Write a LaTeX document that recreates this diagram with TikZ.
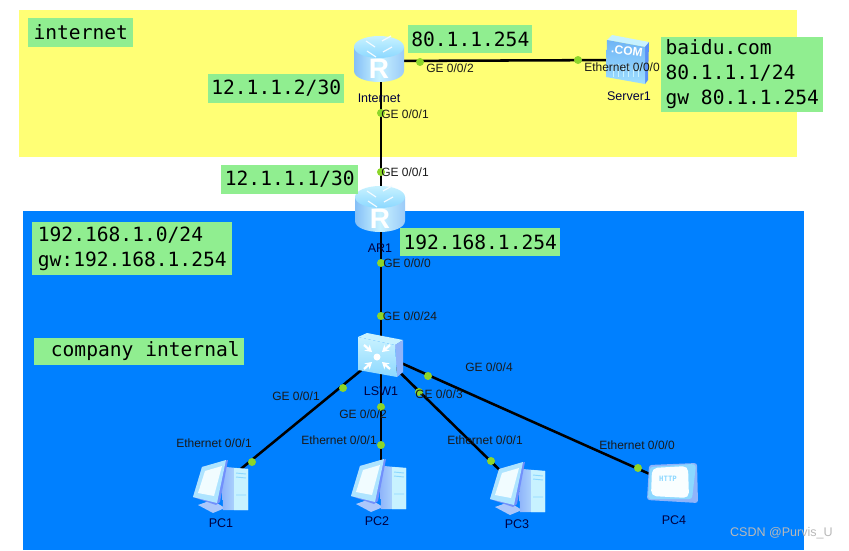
\documentclass[tikz,border=0pt]{standalone}
\usepackage{fontspec}
\setmainfont{Liberation Sans}
\newfontfamily\labelmono{DejaVu Sans Mono}
\usetikzlibrary{arrows.meta}
\definecolor{zoneyellow}{HTML}{FFFF75}
\definecolor{zoneblue}{HTML}{0080FF}
\definecolor{notegreen}{HTML}{90EE90}
\definecolor{portdot}{HTML}{8CD62A}
\definecolor{iconlight}{HTML}{C8F2FF}
\definecolor{iconmid}{HTML}{8CD8FF}
\definecolor{icondeep}{HTML}{6FB4F5}
\definecolor{iconviolet}{HTML}{8FB4FA}
\tikzset{
  x=0.75pt, y=-0.75pt,
  zone/.style={fill=#1, draw=none},
  note/.style 2 args={fill=notegreen, draw=none, font=\labelmono\fontsize{14.7}{18.75}\selectfont,
    align=left, anchor=west, inner xsep=2.3pt, inner ysep=0pt, text=black,
    minimum width=#1*0.75pt, minimum height=#2*0.75pt},
  link/.style={draw=black, line width=1.9pt},
  portdotnode/.style={circle, fill=portdot, draw=none, minimum size=6pt, inner sep=0pt},
  device/.style={draw=none, inner sep=0pt, minimum width=#1},
  port/.style={font=\fontsize{9}{10}\selectfont, text=black!90, inner sep=0pt},
  devname/.style={font=\fontsize{9.4}{10}\selectfont, text=black!75!blue, inner sep=0pt},
  pics/routericon/.style={code={
    \path[left color=icondeep!85, right color=icondeep!70, middle color=iconlight]
      (-25,-13) -- (-25,11) .. controls (-25,18) and (-12,22) .. (0,22)
      .. controls (12,22) and (25,18) .. (25,11) -- (25,-13) -- cycle;
    \path[top color=iconlight, bottom color=iconmid]
      (0,-13) ellipse [x radius=25, y radius=11];
    \foreach \a/\b/\c in {-13/-19/6,3/-19/-5,-12/-9/6,4/-8/-5}
      \draw[white!90!iconmid, line width=.9pt] (\a,\b) -- ++(9,\c);
    \node[text=white, inner sep=0pt, font=\bfseries\fontsize{21}{21}\selectfont] at (0,9) {R};
  }},
  pics/servericon/.style={code={
    \fill[iconlight] (-20,-20) -- (-15,-25) -- (22,-18) -- (18,-13) -- cycle;
    \fill[icondeep!80!blue] (18,-13) -- (22,-18) -- (21,20) -- (18,24) -- cycle;
    \path[top color=icondeep, bottom color=iconmid!85!white]
      (-20,-20) -- (18,-13) -- (18,24) -- (-21,17) -- cycle;
    \node[text=white, inner sep=0pt, font=\bfseries\fontsize{9}{9}\selectfont, rotate=-8] at (0,-9) {.COM};
    \foreach \i in {-14,-9,...,14}
      \draw[iconlight, line width=.6pt] (\i,4) -- (\i,17);
  }},
  pics/switchicon/.style={code={
    \fill[iconlight] (-22,-17) -- (-13,-21) -- (23,-14) -- (15,-9) -- cycle;
    \fill[iconviolet] (15,-9) -- (23,-14) -- (23,18) -- (17,23) -- cycle;
    \path[top color=iconlight, bottom color=iconmid]
      (-22,-17) -- (15,-9) -- (17,23) -- (-22,16) -- cycle;
    \fill[white] (-3,3) circle [radius=3.5];
    \foreach \sx/\sy in {-1/-1,1/-1,-1/1,1/1}
      \draw[white, line width=1.7pt, -{Stealth[length=5pt,width=6pt]}]
        (-3+13*\sx,3+12*\sy) -- (-3+5*\sx,3+5*\sy);
  }},
  pics/pcicon/.style={code={
    % stand and foot
    \fill[iconviolet!75!white] (-22,19) -- (-7,27) -- (5,22) -- (-8,14) -- cycle;
    % tower
    \path[left color=iconviolet, right color=iconlight]
      (2,-16) -- (6,-19) -- (28,-17) -- (28,24) -- (3,24) -- cycle;
    \path[fill=iconlight] (14,-18) -- (28,-17) -- (28,24) -- (14,24) -- cycle;
    \draw[iconmid, line width=.7pt] (16,-13) -- (26,-12) (16,-9) -- (26,-8) (16,9) -- (26,9);
    % monitor frame and screen
    \fill[iconviolet!80!blue] (-27,11) -- (-18,-19) -- (8,-26) -- (0,16) -- (-4,19) -- cycle;
    \fill[iconmid!70!white] (-27,11) -- (-18,-19) -- (6,-26) -- (-3,17) -- cycle;
    \fill[white!75!iconlight] (-22,7) -- (-15,-15) -- (2,-20) -- (-6,10) -- cycle;
  }},
  pics/phoneicon/.style={code={
    \fill[iconviolet] (-23,-19) [rounded corners=2pt] -- (25,-21) -- (26,19) -- (-25,16) -- cycle;
    \fill[iconmid] (-22,-17) [rounded corners=2pt] -- (20,-20) -- (24,-19) -- (20,15) -- (-24,15) -- cycle;
    \fill[white!90!iconlight, rounded corners=4pt] (-20,-16) -- (16,-18) -- (17,14) -- (-21,12) -- cycle;
    \node[text=iconmid, inner sep=0pt, font=\labelmono\bfseries\fontsize{5.5}{6}\selectfont] at (-4,-5) {HTTP};
  }},
}
\begin{document}
\begin{tikzpicture}
\useasboundingbox (0,0) rectangle (849,550);
\fill[white] (0,0) rectangle (849,550);

% network zones
\path[zone=zoneyellow] (19,10) rectangle (797,157);
\path[zone=zoneblue] (23,211) rectangle (804,550);

% device footprints, used as connector ends
\node[device=50, minimum height=44] (internet) at (381,61) {};
\node[device=50, minimum height=44] (ar1) at (381,211) {};
\node[device=44, minimum height=48] (server) at (627,60) {};
\node[device=44, minimum height=44] (lsw) at (381,354) {};
\node[device=52, minimum height=50] (pc1) at (220,486) {};
\node[device=52, minimum height=50] (pc2) at (381,486) {};
\node[device=52, minimum height=50] (pc3) at (517,487) {};
\node[device=50, minimum height=40] (pc4) at (672,484) {};

% links
\draw[link] (internet.center) -- (server.center);
\draw[link] (internet.center) -- (ar1.center);
\draw[link] (ar1.center) -- (lsw.center);
\draw[link] (lsw.center) -- (pc1.center);
\draw[link] (lsw.center) -- (pc2.center);
\draw[link] (lsw.center) -- (pc3.center);
\draw[link] (lsw.center) -- (pc4.center);

% interface markers
\node[portdotnode] (d1) at (420,62) {};
\node[portdotnode] (d2) at (578,60) {};
\node[portdotnode] (d3) at (381,113) {};
\node[portdotnode] (d4) at (381,172) {};
\node[portdotnode] (d5) at (381,263) {};
\node[portdotnode] (d14) at (381,316) {};
\node[portdotnode] (d6) at (343,388) {};
\node[portdotnode] (d7) at (252,462) {};
\node[portdotnode] (d8) at (381,407) {};
\node[portdotnode] (d9) at (381,445) {};
\node[portdotnode] (d10) at (419,392) {};
\node[portdotnode] (d11) at (491,461) {};
\node[portdotnode] (d12) at (428,376) {};
\node[portdotnode] (d13) at (638,468) {};

% device icons
\pic at (379,60) {routericon};
\pic at (380,210) {routericon};
\pic at (627,60) {servericon};
\pic at (380,354) {switchicon};
\pic at (220,486) {pcicon};
\pic at (378,485) {pcicon};
\pic at (517,488) {pcicon};
\pic at (672,484) {phoneicon};

% device names
\node[devname] (n1) at (379,98) {Internet};
\node[devname] (n2) at (629,96) {Server1};
\node[devname] (n3) at (380,248) {AR1};
\node[devname] (n4) at (381,391) {LSW1};
\node[devname] (n5) at (221,523) {PC1};
\node[devname] (n6) at (377,521) {PC2};
\node[devname] (n7) at (517,524) {PC3};
\node[devname] (n8) at (674,520) {PC4};

% port names
\node[port] (p1) at (450,68) {GE 0/0/2};
\node[port] (p2) at (622,67) {Ethernet 0/0/0};
\node[port] (p3) at (405,114) {GE 0/0/1};
\node[port] (p4) at (405,172) {GE 0/0/1};
\node[port] (p5) at (407,263) {GE 0/0/0};
\node[port] (p6) at (410,316) {GE 0/0/24};
\node[port] (p7) at (296,396) {GE 0/0/1};
\node[port] (p8) at (363,414) {GE 0/0/2};
\node[port] (p9) at (439,394) {GE 0/0/3};
\node[port] (p10) at (489,367) {GE 0/0/4};
\node[port] (p11) at (214,443) {Ethernet 0/0/1};
\node[port] (p12) at (339,440) {Ethernet 0/0/1};
\node[port] (p13) at (485,440) {Ethernet 0/0/1};
\node[port] (p14) at (637,445) {Ethernet 0/0/0};

% address notes
\node[note={105}{29}] (a1) at (28,32.5) {internet};
\node[note={123}{28}] (a2) at (408,39) {80.1.1.254};
\node[note={134}{29}] (a3) at (208,88.5) {12.1.1.2/30};
\node[note={137}{29}] (a4) at (221,179.5) {12.1.1.1/30};
\node[note={162}{75}] (a5) at (661,74.5) {baidu.com\\80.1.1.1/24\\gw 80.1.1.254};
\node[note={200}{53}] (a6) at (32,248.5) {192.168.1.0/24\\gw:192.168.1.254};
\node[note={160}{28}] (a7) at (400,242) {192.168.1.254};
\node[note={210}{27}] (a8) at (34,351.5) {\hspace*{9pt}company internal};

\node[inner sep=0pt, anchor=east, text=black!20!white!75!gray, font=\fontsize{9.4}{10}\selectfont] (mark) at (833,533) {CSDN @Purvis\_U};
\end{tikzpicture}
\end{document}
